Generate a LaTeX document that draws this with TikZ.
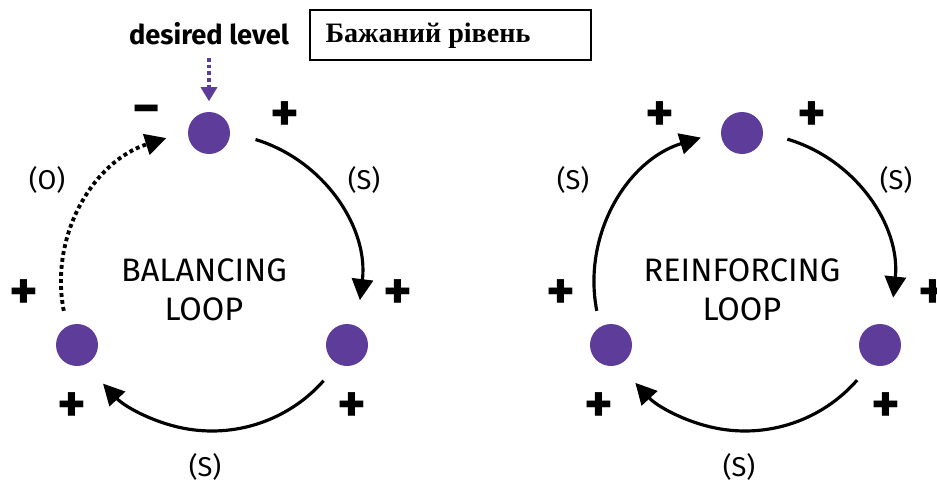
\documentclass[tikz,border=0pt]{standalone}
\usepackage{fontspec}
\setmainfont{Fira Sans}
\newfontfamily\boxfont{Liberation Serif}
\usetikzlibrary{arrows.meta,scopes}
\definecolor{loopviolet}{RGB}{94,60,153}

\begin{document}
\begin{tikzpicture}[thick,
		dot/.style={circle, fill=loopviolet, minimum size=8.4mm, inner sep=0pt},
		sign/.style={font=\fontsize{31}{33}\selectfont\bfseries},
		kind/.style={font=\fontsize{15.5}{17}\selectfont},
		title/.style={font=\fontsize{18.5}{22}\selectfont, align=center},
		link/.style={line width=1.8pt, -{Triangle[length=12pt,width=12pt]}},
		dots/.style={line width=2.2pt, dash pattern=on 2.2pt off 1.8pt}]
	\useasboundingbox (0,0) rectangle (18.74,9.66);

	% balancing loop
	\coordinate (Bc) at (4.24,4.02);
	\node[dot] (B1) at (4.18,7.00) {};
	\node[dot] (B2) at (1.54,2.76) {};
	\node[dot] (B3) at (6.94,2.76) {};

	% reinforcing loop
	\coordinate (Rc) at (14.90,4.02);
	\node[dot] (R1) at (14.84,7.00) {};
	\node[dot] (R2) at (12.22,2.76) {};
	\node[dot] (R3) at (17.60,2.76) {};

	\node[font=\fontsize{15.5}{17}\selectfont\bfseries] (goal) at (4.18,8.98) {desired level};
	\node[draw, line width=0.8pt, minimum width=5.62cm, minimum height=1.0cm, inner sep=0pt] (ukr) at (9.01,8.96) {};
	\node[font=\boxfont\fontsize{16}{18}\selectfont\bfseries, anchor=west] at (6.38,8.94) {Бажаний рівень};

	\node[title] (Btxt) at (4.08,3.87) {BALANCING\\LOOP};
	\node[title] (Rtxt) at (14.84,3.87) {REINFORCING\\LOOP};

	{ [sign]
		\node at (2.94,7.34) {−};
		\node at (5.70,7.32) {+};
		\node at (7.96,3.76) {+};
		\node at (0.48,3.76) {+};
		\node at (1.44,1.50) {+};
		\node at (7.04,1.50) {+};

		\node at (13.20,7.32) {+};
		\node at (16.24,7.32) {+};
		\node at (11.22,3.76) {+};
		\node at (18.66,3.76) {+};
		\node at (11.98,1.50) {+};
		\node at (17.72,1.50) {+};
	}

	{ [kind]
		\node at (0.94,6.06) {(O)};
		\node at (7.28,6.06) {(S)};
		\node at (4.10,0.32) {(S)};

		\node at (11.46,6.06) {(S)};
		\node at (17.92,6.06) {(S)};
		\node at (14.78,0.32) {(S)};
	}

	{ [link]
		\draw (Bc) ++(73:2.98) arc[start angle=73, end angle=-7, radius=2.98];
		\draw (Bc) ++(-41.5:2.98) arc[start angle=-41.5, end angle=-137, radius=2.98];
		\draw[dots] (Bc) ++(191:3.02) arc[start angle=191, end angle=107.6, radius=3.02];

		\draw (Rc) ++(73.5:2.98) arc[start angle=73.5, end angle=-6, radius=2.98];
		\draw (Rc) ++(-41.2:2.98) arc[start angle=-41.2, end angle=-137.4, radius=2.98];
		\draw (Rc) ++(191:3.02) arc[start angle=191, end angle=107, radius=3.02];

		\draw[loopviolet, line width=2pt, dash pattern=on 2.2pt off 1.6pt, -{Triangle[length=8pt,width=9pt]}, shorten <=0.12cm, shorten >=0.2cm] (goal.south) -- (B1.north);
	}
\end{tikzpicture}
\end{document}
